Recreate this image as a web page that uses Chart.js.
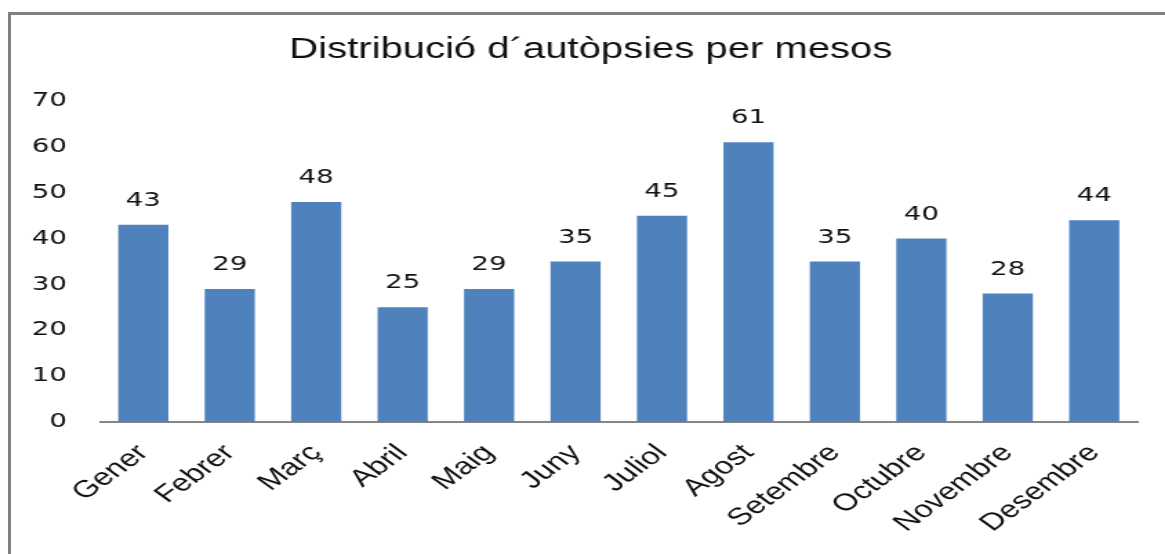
<!DOCTYPE html>
<html>
<head>
<meta charset="utf-8">
<script src="https://cdn.jsdelivr.net/npm/chart.js@4/dist/chart.umd.min.js"></script>
<style>
  html, body { margin:0; padding:0; background:#fff; width:1165px; height:554px; overflow:hidden; }
  #frame { position:absolute; left:8px; top:12px; width:1200px; height:600px;
           border-left:3px solid #808080; border-top:3px solid #808080; }
  /* the source picture is stretched sideways, so the chart is drawn narrow and widened */
  #wrap { position:absolute; left:0; top:0; width:844px; height:554px;
          transform:scaleX(1.3804); transform-origin:0 0; }
</style>
</head>
<body>
<div id="frame"></div>
<div id="wrap"><canvas id="chart"></canvas></div>
<script>
const months = ['Gener','Febrer','Març','Abril','Maig','Juny','Juliol','Agost','Setembre','Octubre','Novembre','Desembre'];
const autopsies = [43, 29, 48, 25, 29, 35, 45, 61, 35, 40, 28, 44];
const yTicks = [0, 10, 20, 30, 40, 50, 60, 70];
const chartTitle = 'Distribució d´autòpsies per mesos';

// title + value labels drawn by hand (no datalabels plugin here)
const extras = {
  id: 'extras',
  afterDraw(chart){
    const ctx = chart.ctx;
    ctx.save();
    ctx.fillStyle = '#111';
    ctx.textAlign = 'center';
    ctx.textBaseline = 'alphabetic';
    ctx.font = '29px "Liberation Sans", Arial, sans-serif';
    ctx.fillText(chartTitle, 428, 58);
    ctx.font = '20px "DejaVu Sans", Verdana, sans-serif';
    chart.getDatasetMeta(0).data.forEach((bar, i) => {
      ctx.fillText(String(autopsies[i]), bar.x, bar.y - 19);
    });
    ctx.restore();
  }
};

new Chart(document.getElementById('chart'), {
  type: 'bar',
  data: {
    labels: months,
    datasets: [{
      data: autopsies,
      backgroundColor: '#4F81BD',
      borderWidth: 0,
      barPercentage: 0.58,
      categoryPercentage: 1
    }]
  },
  options: {
    responsive: true,
    maintainAspectRatio: false,
    animation: false,
    layout: { padding: { top: 101, right: 20, left: 0, bottom: 0 } },
    plugins: { legend: { display:false }, title: { display:false }, tooltip: { enabled:false } },
    scales: {
      x: {
        grid: { display:false, drawTicks:false },
        border: { display:true, color:'#868686', width:2 },
        ticks: {
          autoSkip:false, maxRotation:45, minRotation:45, padding:17,
          color:'#111', font:{ family:'"Liberation Sans", Arial, sans-serif', size:24 }
        },
        afterFit(scale){ scale.height = 132; }
      },
      y: {
        min: 0, max: 70,
        afterBuildTicks(scale){ scale.ticks = yTicks.map(v => ({ value:v })); },
        grid: { display:false, drawTicks:false },
        border: { display:false },
        ticks: { padding:24, color:'#111', font:{ family:'"DejaVu Sans", Verdana, sans-serif', size:20 } },
        afterFit(scale){ scale.width = 72.5; }
      }
    }
  },
  plugins: [extras]
});
</script>
</body>
</html>
